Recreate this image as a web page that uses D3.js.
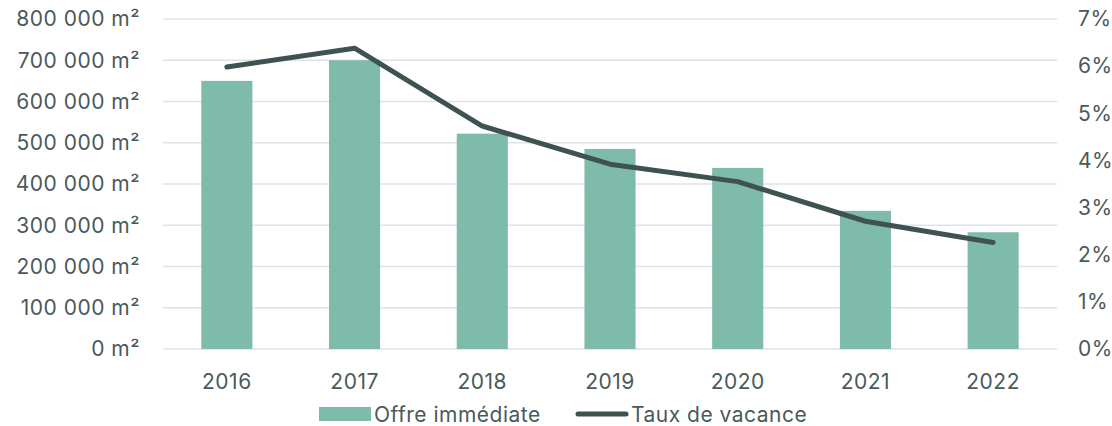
<!DOCTYPE html>
<html>
<head>
  <script src="https://d3js.org/d3.v7.min.js"></script>
  <style>
    body { margin: 0; background: #fff; }
    text { font-family: Inter, sans-serif; fill: #4a5a5a; font-size: 21px; letter-spacing: 0.5px; }
  </style>
</head>
<body>
<div id="chart"></div>
<script>
  const years = ["2016", "2017", "2018", "2019", "2020", "2021", "2022"];
  const offre = [650000, 700000, 522000, 485000, 439000, 335000, 283000];
  const vacance = [5.98, 6.38, 4.73, 3.92, 3.55, 2.71, 2.26];
  const leftTicks = [0, 100000, 200000, 300000, 400000, 500000, 600000, 700000, 800000];
  const rightTicks = [0, 1, 2, 3, 4, 5, 6, 7];

  const width = 1112, height = 426;
  const plot = { left: 163, right: 1057, top: 19, bottom: 349 };

  const svg = d3.select("#chart").append("svg")
    .attr("width", width).attr("height", height);

  const x = d3.scaleBand().domain(years).range([plot.left, plot.right]).paddingInner(0.6).paddingOuter(0.3);
  const yL = d3.scaleLinear().domain([0, 800000]).range([plot.bottom, plot.top]);
  const yR = d3.scaleLinear().domain([0, 7]).range([plot.bottom, plot.top]);

  const fmt = v => d3.format(",")(v).replace(/,/g, " ") + " m²";

  // gridlines
  svg.append("g").selectAll("line").data(leftTicks).join("line")
    .attr("x1", plot.left).attr("x2", plot.right)
    .attr("y1", d => yL(d)).attr("y2", d => yL(d))
    .attr("stroke", "#dde3e3").attr("stroke-width", 1.5);

  // left axis labels
  svg.append("g").selectAll("text").data(leftTicks).join("text")
    .attr("x", 140).attr("y", d => yL(d)).attr("dy", "0.35em")
    .attr("text-anchor", "end")
    .text(fmt);

  // right axis labels
  svg.append("g").selectAll("text").data(rightTicks).join("text")
    .attr("x", 1078).attr("y", d => yR(d)).attr("dy", "0.35em")
    .text(d => d + "%");

  // bars
  svg.append("g").selectAll("rect").data(years).join("rect")
    .attr("x", d => x(d)).attr("width", x.bandwidth())
    .attr("y", (d, i) => yL(offre[i]))
    .attr("height", (d, i) => yL(0) - yL(offre[i]))
    .attr("fill", "#7fbbaa");

  // line
  const line = d3.line()
    .x((d, i) => x(years[i]) + x.bandwidth() / 2)
    .y(d => yR(d));
  svg.append("path").datum(vacance)
    .attr("d", line).attr("fill", "none")
    .attr("stroke", "#3f5252").attr("stroke-width", 5)
    .attr("stroke-linecap", "round").attr("stroke-linejoin", "round");

  // x labels
  svg.append("g").selectAll("text").data(years).join("text")
    .attr("x", d => x(d) + x.bandwidth() / 2).attr("y", 389)
    .attr("text-anchor", "middle")
    .text(d => d);

  // legend
  const lg = svg.append("g");
  lg.append("rect").attr("x", 319).attr("y", 407).attr("width", 52).attr("height", 14).attr("fill", "#7fbbaa");
  lg.append("text").attr("x", 374).attr("y", 422).text("Offre immédiate");
  lg.append("line").attr("x1", 578).attr("x2", 626).attr("y1", 414).attr("y2", 414)
    .attr("stroke", "#3f5252").attr("stroke-width", 5).attr("stroke-linecap", "round");
  lg.append("text").attr("x", 631).attr("y", 422).text("Taux de vacance");
</script>
</body>
</html>
